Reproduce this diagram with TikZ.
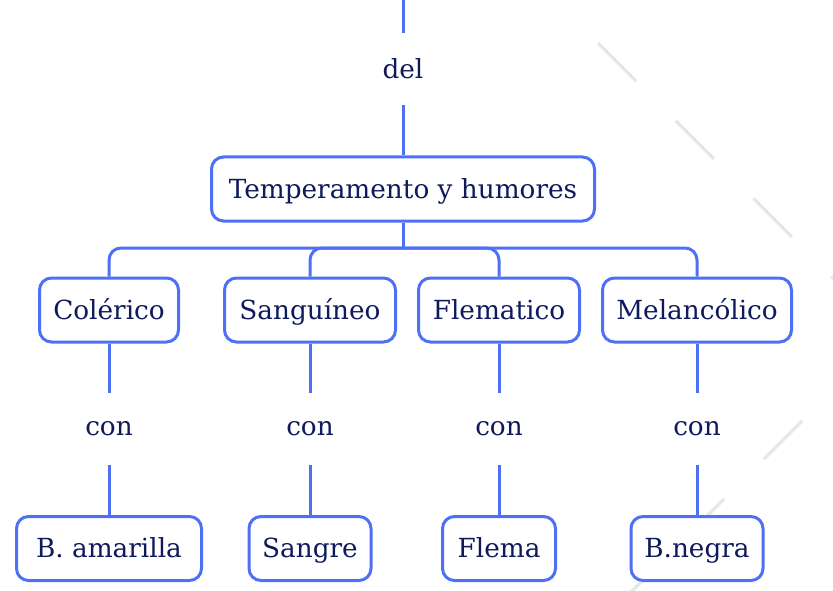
\documentclass[tikz,border=0pt]{standalone}
\usepackage{fontspec}
\setmainfont{DejaVu Serif}
\definecolor{mapblue}{RGB}{78,112,246}
\definecolor{mapink}{RGB}{14,26,92}
\definecolor{markgray}{RGB}{230,231,233}
\tikzset{
  topic/.style={draw=mapblue, line width=3pt, rounded corners=12pt, fill=white,
    text=mapink, minimum height=64pt, inner sep=0pt, text height=23pt, text depth=5pt,
    font=\fontsize{26.3}{30}\selectfont},
  linkword/.style={text=mapink, minimum height=72pt, inner sep=0pt, font=\fontsize{26.3}{30}\selectfont},
  link/.style={draw=mapblue, line width=3pt},
  watermark/.style={draw=markgray, line width=3.5pt, dash pattern=on 54pt off 56pt}
}
\begin{document}
\begin{tikzpicture}[x=1pt,y=-1pt]
  \useasboundingbox (0,0) rectangle (833,591);
  % marca de agua
  \draw[watermark] (598,43) -- (880,325);
  \draw[watermark] (802,421) -- (600,623);
  % raiz
  \coordinate (in) at (403,0);
  \node[linkword] (del) at (403,69) {del};
  \node[topic, minimum width=383pt] (root) at (403,189) {Temperamento y humores};
  \coordinate (bus) at (403,248);
  \draw[link] (in) -- (del.north);
  \draw[link] (del.south) -- (root.north);
  \draw[link] (root.south) -- (bus);
  % temperamentos y humores
  \foreach \k/\x/\tw/\tname/\hw/\hname in {col/109/139/Colérico/185/B. amarilla,
                                           san/310/171/Sanguíneo/122/Sangre,
                                           fle/499/161/Flematico/113/Flema,
                                           mel/697/189/Melancólico/132/B.negra}{
    \node[topic, minimum width=\tw pt] (\k) at (\x,310) {\tname};
    \node[linkword] (con\k) at (\x,429) {con};
    \node[topic, minimum width=\hw pt] (h\k) at (\x,548.5) {\hname};
    \draw[link, rounded corners=12pt] (bus) -| (\k.north);
    \draw[link] (\k.south) -- (con\k.north);
    \draw[link] (con\k.south) -- (h\k.north);
  }
\end{tikzpicture}
\end{document}
